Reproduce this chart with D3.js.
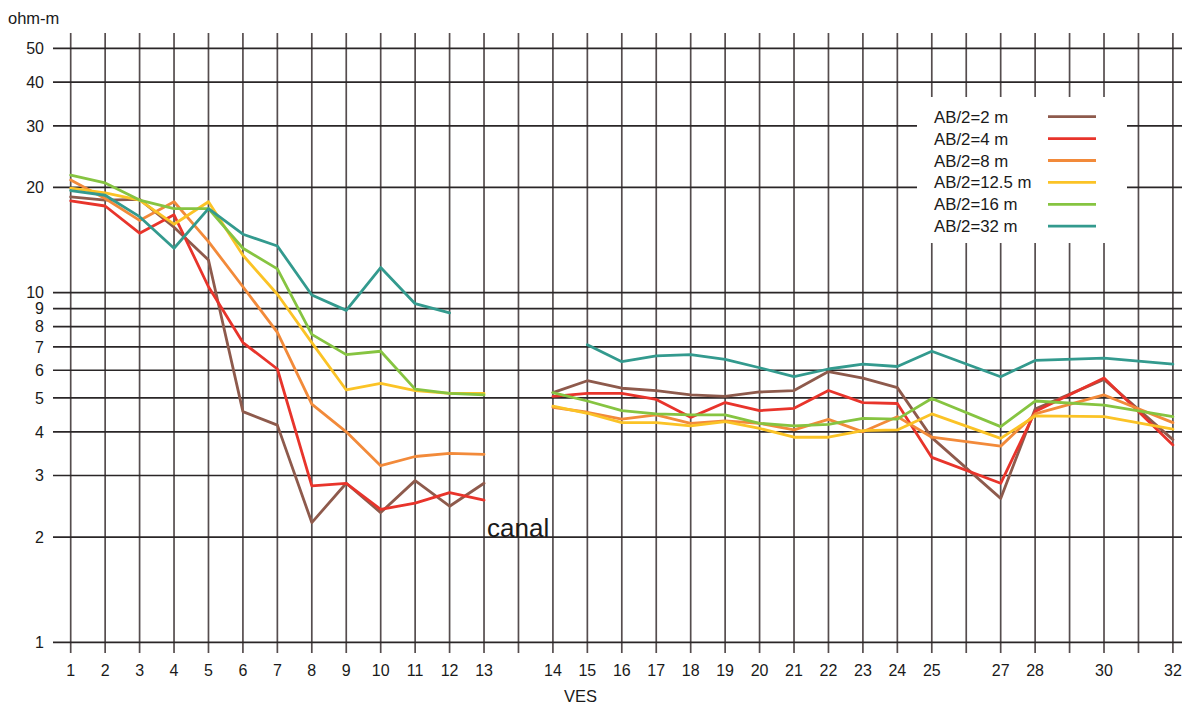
<!DOCTYPE html>
<html>
<head>
<meta charset="utf-8">
<script src="https://cdn.jsdelivr.net/npm/d3@7"></script>
<style>
  html, body { margin: 0; padding: 0; background: #fff; }
  svg { display: block; font-family: "Liberation Sans", Arial, sans-serif; }
</style>
</head>
<body>
<svg id="chart" width="1189" height="708"></svg>
<script>
// ---------- DATA ----------
// x slots (gridlines); blank = unlabeled gridline
const xTickLabels = ["1","2","3","4","5","6","7","8","9","10","11","12","13","",
  "14","15","16","17","18","19","20","21","22","23","24","25","","27","28","","30","","32"];
const yTicks = [1,2,3,4,5,6,7,8,9,10,20,30,40,50];

// VES stations that carry measurements (canal lies between 13 and 14)
const vesWest = [1,2,3,4,5,6,7,8,9,10,11,12,13];
const vesEast = [14,15,16,17,18,19,20,21,22,23,24,25,27,28,30,32];

const seriesNames = ["AB/2=2 m","AB/2=4 m","AB/2=8 m","AB/2=12.5 m","AB/2=16 m","AB/2=32 m"];
const seriesColors = ["#8e5a4c","#e8342b","#f28a3a","#fbc326","#86c441","#339a8e"];

// resistivity (ohm-m)
const ab2West   = [18.8,18.4,18.5,15.4,12.4,4.57,4.18,2.2,2.85,2.35,2.9,2.45,2.85];
const ab2East   = [5.18,5.6,5.33,5.25,5.1,5.05,5.2,5.25,5.95,5.7,5.35,3.85,2.58,4.65,5.65,3.8];
const ab4West   = [18.3,17.7,14.8,16.7,10.4,7.2,6.05,2.8,2.85,2.4,2.5,2.68,2.55];
const ab4East   = [5.05,5.15,5.15,4.95,4.4,4.85,4.6,4.67,5.25,4.85,4.82,3.38,2.85,4.57,5.7,3.67];
const ab8West   = [21.0,18.6,16.1,18.2,14.0,10.4,7.7,4.8,4.0,3.2,3.4,3.47,3.45];
const ab8East   = [4.7,4.55,4.35,4.47,4.23,4.3,4.23,4.05,4.34,4.0,4.42,3.86,3.64,4.5,5.1,4.25];
const ab125West = [19.9,19.3,18.4,15.7,18.2,12.8,9.9,7.2,5.27,5.5,5.25,5.15,5.15];
const ab125East = [4.74,4.52,4.25,4.25,4.16,4.28,4.09,3.86,3.86,4.03,4.05,4.5,3.83,4.44,4.42,4.07];
const ab16West  = [21.7,20.6,18.4,17.4,17.4,13.4,11.7,7.6,6.65,6.8,5.3,5.15,5.1];
const ab16East  = [5.18,4.9,4.6,4.5,4.47,4.47,4.23,4.16,4.2,4.37,4.35,4.98,4.14,4.9,4.77,4.42];
const ab32West  = [19.6,19.0,16.5,13.4,17.4,14.7,13.6,9.85,8.9,11.8,9.3,8.75,null];
const ab32East  = [null,7.1,6.35,6.6,6.65,6.45,6.1,5.75,6.05,6.25,6.15,6.8,5.75,6.4,6.5,6.25];

const westValues = [ab2West, ab4West, ab8West, ab125West, ab16West, ab32West];
const eastValues = [ab2East, ab4East, ab8East, ab125East, ab16East, ab32East];

// ---------- LAYOUT ----------
const svg = d3.select("#chart");
const gridTop = 33, gridBottom = 653, gridLeft = 53, gridRight = 1182;
const textColor = "#1a1a1a";

const x = d3.scaleLinear().domain([0, xTickLabels.length - 1]).range([70.7, 1172.9]);
const y = d3.scaleLog().domain([1, 10]).range([642.3, 292.7]);
const slotOf = v => xTickLabels.indexOf(String(v));

// vertical gridlines
svg.append("g").selectAll("line").data(xTickLabels).join("line")
  .attr("x1", (d,i) => x(i)).attr("x2", (d,i) => x(i))
  .attr("y1", gridTop).attr("y2", gridBottom)
  .attr("stroke", "#554d4e").attr("stroke-width", 1.7);

// horizontal gridlines
svg.append("g").selectAll("line").data(yTicks).join("line")
  .attr("x1", gridLeft).attr("x2", gridRight)
  .attr("y1", d => y(d)).attr("y2", d => y(d))
  .attr("stroke", "#2a2627").attr("stroke-width", 1.7);

// y tick labels
svg.append("g").selectAll("text").data(yTicks).join("text")
  .attr("x", 44).attr("y", d => y(d)).attr("dy", "0.36em")
  .attr("text-anchor", "end").attr("font-size", 16).attr("fill", textColor)
  .text(d => d);

// x tick labels
svg.append("g").selectAll("text").data(xTickLabels).join("text")
  .attr("x", (d,i) => x(i)).attr("y", 676)
  .attr("text-anchor", "middle").attr("font-size", 16).attr("fill", textColor)
  .text(d => d);

// axis titles
svg.append("text").attr("x", 8).attr("y", 24).attr("font-size", 16.5).attr("fill", textColor).text("ohm-m");
svg.append("text").attr("x", 564).attr("y", 702).attr("font-size", 16.5).attr("fill", textColor).text("VES");

// legend box
svg.append("rect").attr("x", 917).attr("y", 97).attr("width", 210).attr("height", 146).attr("fill", "#fff");

// series lines
const line = d3.line()
  .defined(d => d.v != null)
  .x(d => x(slotOf(d.ves)))
  .y(d => y(d.v));

const lineG = svg.append("g").attr("fill", "none").attr("stroke-width", 2.8)
  .attr("stroke-linejoin", "round").attr("stroke-linecap", "round");

seriesNames.forEach((name, si) => {
  [[vesWest, westValues[si]], [vesEast, eastValues[si]]].forEach(([ves, vals]) => {
    const pts = ves.map((v, i) => ({ves: v, v: vals[i]}));
    lineG.append("path").datum(pts).attr("d", line).attr("stroke", seriesColors[si]);
  });
});

// canal label
svg.append("text").attr("x", 487).attr("y", 537).attr("font-size", 26).attr("fill", textColor).text("canal");

// legend entries
const leg = svg.append("g").selectAll("g").data(seriesNames).join("g")
  .attr("transform", (d,i) => `translate(0, ${116.7 + i * 21.9})`);
leg.append("text").attr("x", 934).attr("y", 0).attr("dy", "0.36em")
  .attr("font-size", 16.8).attr("fill", textColor).text(d => d);
leg.append("line").attr("x1", 1048).attr("x2", 1096).attr("y1", 0).attr("y2", 0)
  .attr("stroke", (d,i) => seriesColors[i]).attr("stroke-width", 2.8);
</script>
</body>
</html>
